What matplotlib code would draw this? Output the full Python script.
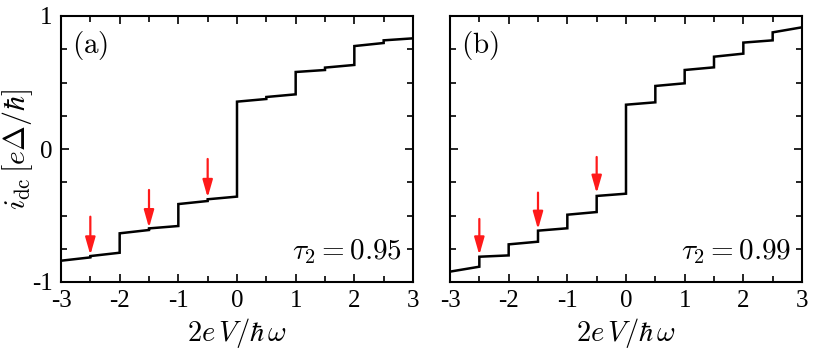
import matplotlib
matplotlib.use("Agg")
import matplotlib.pyplot as plt
import numpy as np

plt.rcParams['mathtext.fontset'] = 'cm'
plt.rcParams['font.family'] = ['Liberation Serif', 'DejaVu Serif']

# step positions (x) and current on each side of every step
x_steps = [-3, -2.5, -2, -1.5, -1, -0.5, 0, 0.5, 1, 1.5, 2, 2.5, 3]

# panel (a): tau2 = 0.95 -> value just before / just after each x in x_steps
a_before = [-0.84, -0.815, -0.78, -0.609, -0.579, -0.391, -0.358, 0.376, 0.411, 0.594, 0.632, 0.797, 0.832]
a_after = [-0.84, -0.805, -0.634, -0.597, -0.414, -0.378, 0.356, 0.391, 0.579, 0.612, 0.774, 0.817, 0.832]

# panel (b): tau2 = 0.99
b_before = [-0.922, -0.885, -0.80, -0.697, -0.596, -0.474, -0.336, 0.351, 0.494, 0.614, 0.717, 0.817, 0.915]
b_after = [-0.922, -0.81, -0.717, -0.614, -0.494, -0.353, 0.333, 0.474, 0.594, 0.694, 0.80, 0.877, 0.915]

# arrows: x, start y, tip y
arr_x = [-2.5, -1.5, -0.5]
a_arr_start = [-0.509, -0.308, -0.075]
a_arr_tip = [-0.797, -0.592, -0.365]
b_arr_start = [-0.526, -0.328, -0.06]
b_arr_tip = [-0.797, -0.604, -0.333]

panels = [
    ("(a)", r"$\tau_2 = 0.95$", a_before, a_after, a_arr_start, a_arr_tip),
    ("(b)", r"$\tau_2 = 0.99$", b_before, b_after, b_arr_start, b_arr_tip),
]


def step_curve(before, after):
    xs, ys = [], []
    for xv, yb, ya in zip(x_steps, before, after):
        xs += [xv, xv]
        ys += [yb, ya]
    return xs, ys


fig = plt.figure(figsize=(8.3, 3.49), dpi=100)
ax_pos = [[61/830, 1-282/349, 352/830, 266/349],
          [450/830, 1-282/349, 352/830, 266/349]]

for i, (tag, tau, before, after, a_s, a_t) in enumerate(panels):
    ax = fig.add_axes(ax_pos[i])
    xs, ys = step_curve(before, after)
    ax.plot(xs, ys, color='black', lw=1.8, solid_joinstyle='miter')
    for xv, s, t in zip(arr_x, a_s, a_t):
        ax.annotate('', xy=(xv, t), xytext=(xv, s),
                    arrowprops=dict(arrowstyle='-|>,head_length=1.05,head_width=0.3',
                                    color='#ff1a1a', lw=1.6, shrinkA=0, shrinkB=0))
    ax.set_xlim(-3, 3)
    ax.set_ylim(-1, 1)
    ax.set_xticks(np.arange(-3, 3.1, 1))
    ax.set_xticks(np.arange(-3, 3.1, 0.5), minor=True)
    ax.set_yticks([-1, 0, 1])
    ax.set_yticks(np.arange(-1, 1.01, 0.25), minor=True)
    ax.set_xticklabels(['-3', '-2', '-1', '0', '1', '2', '3'])
    if i == 0:
        ax.set_yticklabels(['-1', '0', '1'])
        ax.set_ylabel(r"$i_{\rm dc}\,[e\Delta/\hbar]$", fontsize=21.5, labelpad=-2)
    else:
        ax.set_yticklabels([])
    ax.tick_params(which='both', direction='in', top=True, right=True, labelsize=18, width=1.2)
    ax.tick_params(which='major', length=6, pad=6)
    ax.tick_params(which='minor', length=4)
    for sp in ax.spines.values():
        sp.set_linewidth(1.5)
    ax.set_xlabel(r"$2e\,V/\hbar\,\omega$", fontsize=20.5, labelpad=3)
    ax.text(0.03, 0.95, r"$\rm " + tag + "$", transform=ax.transAxes, fontsize=21, va='top', ha='left')
    ax.text(0.97, 0.06, tau, transform=ax.transAxes, fontsize=21, va='bottom', ha='right')

fig.savefig("out.png", dpi=100)
